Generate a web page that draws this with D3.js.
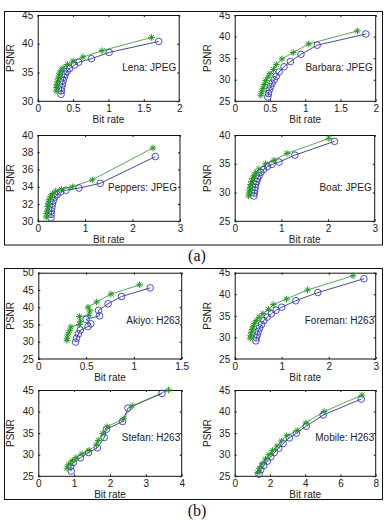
<!DOCTYPE html>
<html><head><meta charset="utf-8">
<script src="https://cdn.jsdelivr.net/npm/d3@7"></script>
<style>body{margin:0;background:#fff}svg{display:block}</style>
</head><body><svg id="c" width="386" height="520"></svg>
<script>
// ---------- data ----------
const titles = ["Lena: JPEG","Barbara: JPEG","Peppers: JPEG","Boat: JPEG","Akiyo: H263","Foreman: H263","Stefan: H263","Mobile: H263"];
const xTickLabels = [[0,0.5,1,1.5,2],[0,0.5,1,1.5,2],[0,1,2,3],[0,1,2,3],[0,0.5,1,1.5],[0,1,2,3],[0,1,2,3,4],[0,2,4,6,8]];
const yTickLabels = [[30,35,40,45],[25,30,35,40,45],[30,32,34,36,38,40],[25,30,35,40],[25,30,35,40,45,50],[25,30,35,40,45],[25,30,35,40,45],[25,30,35,40,45]];
const xAxisTitle = "Bit rate";
const yAxisTitle = "PSNR";
const groupLabels = ["(a)","(b)"];

// [bit rate, PSNR] — green star series
const lenaStar = [[0.26,31.8],[0.265,32.4],[0.27,32.9],[0.28,33.4],[0.29,33.9],[0.30,34.4],[0.31,34.9],[0.33,35.4],[0.36,35.8],[0.42,36.4],[0.50,37.0],[0.64,37.7],[0.91,38.8],[1.61,41.1]];
const barbaraStar = [[0.37,26.4],[0.385,27.2],[0.40,28.0],[0.42,28.9],[0.44,29.8],[0.47,30.6],[0.50,31.4],[0.55,32.4],[0.59,33.5],[0.67,34.8],[0.83,36.3],[1.05,38.3],[1.74,41.3]];
const peppersStar = [[0.18,30.5],[0.19,30.9],[0.20,31.3],[0.21,31.7],[0.22,32.1],[0.24,32.5],[0.27,32.9],[0.31,33.2],[0.38,33.5],[0.50,33.7],[0.73,34.0],[1.15,34.8],[2.43,38.5]];
const boatStar = [[0.30,29.4],[0.31,29.9],[0.32,30.4],[0.33,30.9],[0.34,31.4],[0.36,31.9],[0.38,32.4],[0.41,32.9],[0.45,33.5],[0.52,34.1],[0.66,35.0],[0.84,35.6],[1.12,36.8],[2.02,39.4]];
const akiyoStar = [[0.30,30.4],[0.30,31.1],[0.31,32.2],[0.33,33.2],[0.34,34.3],[0.43,35.0],[0.44,35.8],[0.43,37.3],[0.53,37.7],[0.54,38.9],[0.52,40.0],[0.61,41.5],[0.76,43.8],[1.06,46.5]];
const foremanStar = [[0.33,29.8],[0.34,30.4],[0.35,31.1],[0.37,31.8],[0.39,32.5],[0.42,33.2],[0.46,33.9],[0.52,34.7],[0.60,35.5],[0.72,36.5],[0.82,37.6],[1.10,38.9],[1.55,41.0],[2.52,44.3]];
const stefanStar = [[0.80,26.9],[0.85,27.8],[0.95,28.6],[1.05,29.3],[1.22,30.2],[1.42,31.0],[1.62,32.3],[1.67,33.3],[1.80,34.9],[1.92,36.5],[2.38,38.3],[2.62,41.3],[3.63,45.0]];
const mobileStar = [[1.30,25.9],[1.40,26.9],[1.55,27.9],[1.75,29.0],[1.95,30.0],[2.15,31.0],[2.40,32.0],[2.65,33.2],[2.95,34.4],[3.55,35.6],[4.05,37.4],[5.07,40.0],[7.22,43.8]];

// [bit rate, PSNR] — blue circle series
const lenaCircle = [[0.33,31.2],[0.335,31.8],[0.34,32.4],[0.35,33.0],[0.36,33.6],[0.375,34.2],[0.39,34.7],[0.415,35.2],[0.45,35.7],[0.52,36.3],[0.58,36.8],[0.76,37.4],[1.01,38.5],[1.71,40.4]];
const barbaraCircle = [[0.47,26.0],[0.48,26.8],[0.49,27.6],[0.51,28.4],[0.53,29.2],[0.56,30.0],[0.59,30.8],[0.63,31.8],[0.70,33.0],[0.79,34.2],[0.94,35.9],[1.17,38.0],[1.86,40.6]];
const peppersCircle = [[0.28,30.4],[0.285,30.8],[0.29,31.2],[0.30,31.6],[0.31,32.0],[0.33,32.4],[0.36,32.8],[0.41,33.1],[0.48,33.4],[0.60,33.6],[0.87,33.85],[1.32,34.4],[2.48,37.5]];
const boatCircle = [[0.41,29.4],[0.42,29.9],[0.43,30.4],[0.44,30.9],[0.45,31.4],[0.47,31.9],[0.49,32.4],[0.52,32.9],[0.56,33.5],[0.62,34.0],[0.70,34.5],[0.80,34.9],[0.95,35.3],[1.29,36.5],[2.14,38.9]];
const akiyoCircle = [[0.39,29.9],[0.40,31.0],[0.42,32.3],[0.44,33.4],[0.52,34.4],[0.55,35.2],[0.50,36.5],[0.64,37.5],[0.63,39.1],[0.73,41.0],[0.87,43.1],[1.17,45.6]];
const foremanCircle = [[0.45,29.2],[0.46,29.9],[0.48,30.6],[0.50,31.4],[0.53,32.2],[0.57,33.0],[0.62,33.9],[0.69,34.7],[0.78,35.5],[0.88,36.3],[1.00,37.0],[1.30,38.5],[1.77,40.4],[2.75,43.6]];
const stefanCircle = [[0.92,26.2],[0.90,27.3],[0.98,28.2],[1.18,29.3],[1.40,30.5],[1.65,31.6],[1.84,34.0],[1.90,35.9],[2.35,37.7],[2.50,40.8],[3.45,44.2]];
const mobileCircle = [[1.38,25.5],[1.48,26.5],[1.65,27.5],[1.85,28.5],[2.05,29.5],[2.25,30.5],[2.50,31.5],[2.75,32.6],[3.10,33.9],[3.50,35.0],[4.06,36.6],[5.02,39.2],[7.18,42.9]];

const starSeries = [lenaStar,barbaraStar,peppersStar,boatStar,akiyoStar,foremanStar,stefanStar,mobileStar];
const circleSeries = [lenaCircle,barbaraCircle,peppersCircle,boatCircle,akiyoCircle,foremanCircle,stefanCircle,mobileCircle];

// ---------- layout ----------
const colLeft = [[37.7,234.7],[37.7,234.7],[38.3,234.7],[38.3,234.7]];
const colWidth = [[141.5,141],[142.3,140],[143.4,141],[143.4,141]];
const rowTop = [15,135,272.7,390];
const plotH = 86.3;
const textColor = "#222";
const greenLine = "#2f8f2f", greenMark = "#1f9a1f";
const blueLine = "#1c1c7a", blueMark = "#3838c0";

const svg = d3.select("#c");
svg.append("rect").attr("width",386).attr("height",520).attr("fill","#fff");

// outer frames
svg.append("rect").attr("x",4.5).attr("y",11.5).attr("width",378).attr("height",233.5).attr("fill","none").attr("stroke","#111").attr("stroke-width",1);
svg.append("rect").attr("x",4.5).attr("y",268.5).attr("width",378).attr("height",231).attr("fill","none").attr("stroke","#111").attr("stroke-width",1);
svg.append("text").attr("x",197).attr("y",260.5).attr("text-anchor","middle").attr("font-family","Liberation Serif, Times New Roman, serif").attr("font-size",16).attr("fill","#111").text(groupLabels[0]);
svg.append("text").attr("x",197).attr("y",515.5).attr("text-anchor","middle").attr("font-family","Liberation Serif, Times New Roman, serif").attr("font-size",16).attr("fill","#111").text(groupLabels[1]);

const starPath = (s)=>{const k=s*0.72;return `M${-s},0L${s},0M0,${-s}L0,${s}M${-k},${-k}L${k},${k}M${-k},${k}L${k},${-k}`;};

titles.forEach((title,i)=>{
  const r = Math.floor(i/2), c = i%2;
  const W = colWidth[r][c], H = plotH;
  const g = svg.append("g").attr("transform",`translate(${colLeft[r][c]},${rowTop[r]})`)
    .attr("font-family","Liberation Sans, Arial, sans-serif");
  const xt = xTickLabels[i], yt = yTickLabels[i];
  const x = d3.scaleLinear().domain([xt[0],xt[xt.length-1]]).range([0,W]);
  const y = d3.scaleLinear().domain([yt[0],yt[yt.length-1]]).range([H,0]);

  const styleAxis = (sel, labels)=>{
    sel.select(".domain").remove();
    sel.selectAll(".tick line").attr("stroke","#111");
    sel.selectAll("text").attr("fill",textColor).attr("font-size",10).attr("font-family","Liberation Sans, Arial, sans-serif");
    if(!labels) sel.selectAll("text").remove();
  };
  g.append("g").attr("transform",`translate(0,${H})`)
    .call(d3.axisBottom(x).tickValues(xt).tickSize(-2).tickPadding(4).tickFormat(d3.format("~g")))
    .call(s=>styleAxis(s,true));
  g.append("g").call(d3.axisLeft(y).tickValues(yt).tickSize(-2).tickPadding(4.5).tickFormat(d3.format("~g")))
    .call(s=>styleAxis(s,true));
  g.append("g").call(d3.axisTop(x).tickValues(xt).tickSize(-2)).call(s=>styleAxis(s,false));
  g.append("g").attr("transform",`translate(${W},0)`).call(d3.axisRight(y).tickValues(yt).tickSize(-2)).call(s=>styleAxis(s,false));
  g.append("rect").attr("x",0.5).attr("y",0.5).attr("width",W-0.5).attr("height",H-0.5).attr("fill","none").attr("stroke","#111").attr("stroke-width",1);

  g.append("text").attr("x",W/2).attr("y",H+22).attr("text-anchor","middle").attr("font-size",10).attr("fill",textColor).text(xAxisTitle);
  g.append("text").attr("transform",`translate(-24,${H/2}) rotate(-90)`).attr("text-anchor","middle").attr("font-size",10).attr("fill",textColor).text(yAxisTitle);

  g.append("text").attr("x",W-(r<2?3:1.5)).attr("y",r<2?52:47.5).attr("dy","0.35em").attr("text-anchor","end").attr("font-size",10).attr("fill",textColor).text(title);

  const line = d3.line().x(d=>x(d[0])).y(d=>y(d[1]));
  const S = starSeries[i], C = circleSeries[i];
  g.append("path").datum(C).attr("d",line).attr("fill","none").attr("stroke",blueLine).attr("stroke-width",0.8);
  g.append("path").datum(S).attr("d",line).attr("fill","none").attr("stroke",greenLine).attr("stroke-width",0.8);
  g.selectAll(".c").data(C).enter().append("circle").attr("cx",d=>x(d[0])).attr("cy",d=>y(d[1])).attr("r",3.3)
    .attr("fill","none").attr("stroke",blueMark).attr("stroke-width",0.9);
  g.selectAll(".s").data(S).enter().append("path").attr("transform",d=>`translate(${x(d[0])},${y(d[1])})`)
    .attr("d",starPath(3.3)).attr("fill","none").attr("stroke",greenMark).attr("stroke-width",1);
});
</script></body></html>
